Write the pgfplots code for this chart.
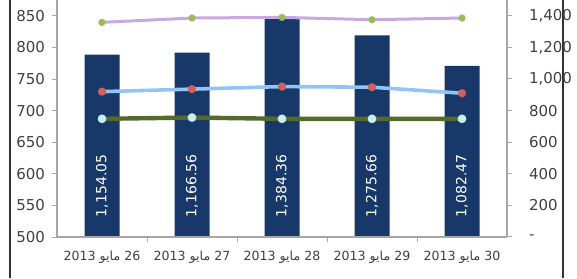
\documentclass[border=0pt]{standalone}
\usepackage{pgfplots}
\pgfplotsset{compat=1.18}
\usepackage{fontspec}
\setmainfont{DejaVu Sans}
\newfontfamily\arabicfont[Script=Arabic]{DejaVu Sans}
\definecolor{barblue}{HTML}{18386A}
\definecolor{lav}{HTML}{C8A8E2}
\definecolor{lgreen}{HTML}{9BBB59}
\definecolor{lblue}{HTML}{92C4F6}
\definecolor{lred}{HTML}{D0605A}
\definecolor{olive}{HTML}{536A2A}
\definecolor{lcyan}{HTML}{C8EEF5}
\definecolor{txt}{HTML}{404040}
\definecolor{axgray}{HTML}{A6A6A6}
\newcommand{\dl}[1]{2013 {\arabicfont مايو} #1}
\begin{document}
\begin{tikzpicture}
\useasboundingbox (0,0) rectangle (288.5pt,139pt);
\draw[black!80, line width=1pt] (5pt,0) -- (5pt,139pt);
\draw[black!80, line width=1pt] (281.5pt,0) -- (281.5pt,139pt);
% bars on right axis
\begin{axis}[
  at={(28.5pt,20.5pt)}, anchor=south west,
  scale only axis, width=225pt, height=118.5pt,
  xmin=-0.5, xmax=4.5, ymin=0, ymax=1500,
  axis y line*=right, axis x line=none,
  y axis line style={axgray, line width=0.6pt},
  ytick={0,200,...,1400},
  yticklabels={-,200,400,600,800,{1,000},{1,200},{1,400}},
  tick align=outside, major tick length=2.5pt,
  ytick style={axgray, line width=0.5pt},
  yticklabel style={font=\fontsize{7.5}{9}\selectfont, text=txt, anchor=west, xshift=5pt},
  xtick=\empty,
]
\addplot[ybar, bar width=17.5pt, fill=barblue, draw=none,
  visualization depends on={y \as \rawy},
  point meta=y,
  nodes near coords,
  every node near coord/.append style={
    /pgf/number format/fixed, /pgf/number format/fixed zerofill,
    /pgf/number format/precision=2, /pgf/number format/1000 sep={,},
    /pgf/number format/assume math mode=true,
    shift={(axis direction cs:0,{124-\rawy})}, rotate=90, anchor=west,
    inner sep=0pt, text=white, font=\fontsize{7}{8}\selectfont},
] coordinates {(0,1154.05) (1,1166.56) (2,1384.36) (3,1275.66) (4,1082.47)};
\end{axis}
% lines on left axis
\begin{axis}[
  at={(28.5pt,20.5pt)}, anchor=south west,
  scale only axis, width=225pt, height=118.5pt,
  xmin=-0.5, xmax=4.5, ymin=500, ymax=875,
  axis y line*=left, axis x line*=bottom,
  axis line style={axgray, line width=0.6pt},
  ytick={500,550,...,850},
  /pgf/number format/assume math mode=true,
  xtick={0,...,4},
  xticklabels={{\dl{26}},{\dl{27}},{\dl{28}},{\dl{29}},{\dl{30}}},
  minor xtick={0.5,1.5,2.5,3.5},
  major x tick style={draw=none},
  minor tick length=2.5pt,
  tick align=outside, major tick length=2.5pt,
  tick style={axgray, line width=0.5pt},
  yticklabel style={font=\fontsize{7.5}{9}\selectfont, text=txt, xshift=0pt},
  xticklabel style={font=\fontsize{6.3}{7}\selectfont, text=txt, yshift=-1pt},
]
\addplot[lav, line width=1.5pt, mark=*, mark size=1pt, mark options={lgreen, draw=lgreen}]
  coordinates {(0,839.6) (1,846.5) (2,847.5) (3,843.8) (4,846.5)};
\addplot[lblue, line width=1.8pt, mark=*, mark size=1.1pt, mark options={lred, draw=lred}]
  coordinates {(0,730) (1,734) (2,738) (3,737) (4,727.5)};
\addplot[olive, line width=2.2pt, mark=*, mark size=1pt, mark options={lcyan, draw=lcyan}]
  coordinates {(0,687) (1,689) (2,687) (3,687) (4,687)};
\end{axis}
\end{tikzpicture}
\end{document}
